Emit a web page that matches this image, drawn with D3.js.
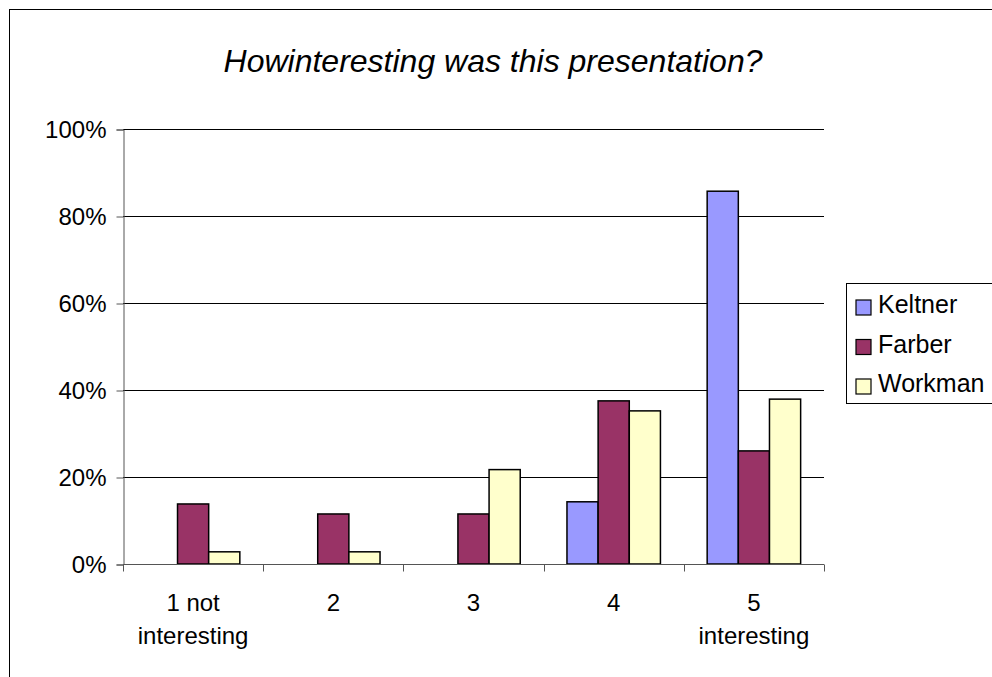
<!DOCTYPE html>
<html>
<head>
<meta charset="utf-8">
<script src="https://cdn.jsdelivr.net/npm/d3@7"></script>
<style>
  body { margin: 0; background: #fff; }
  svg text { font-family: "Liberation Sans", Arial, sans-serif; fill: #000; }
</style>
</head>
<body>
<svg width="992" height="677"></svg>
<script>
const CATEGORIES = ['1 not|interesting', '2', '3', '4', '5|interesting'];
const SERIES = ['Keltner', 'Farber', 'Workman'];
const KELTNER = [0, 0, 0, 0.143, 0.857];
const FARBER = [0.138, 0.115, 0.115, 0.375, 0.26];
const WORKMAN = [0.028, 0.028, 0.217, 0.352, 0.379];
const Y_TICKS = [0, 0.2, 0.4, 0.6, 0.8, 1];
const COLORS = ['#9999ff', '#993366', '#ffffcc'];
const TITLE = 'Howinteresting was this presentation?';

let values = [KELTNER, FARBER, WORKMAN];
let rows = [];
CATEGORIES.forEach((c, i) => {
	SERIES.forEach((s, j) => {
		rows.push({cat: c, series: s, v: values[j][i]});
	});
});

const svg = d3.select('svg');
const plotL = 123, plotR = 824, plotT = 129, plotB = 564;

// chart frame (right/bottom edges fall off the picture)
svg.append('rect').attr('x', 9.5).attr('y', 9.5).attr('width', 1100).attr('height', 800)
	.attr('fill', 'none').attr('stroke', '#000').attr('stroke-width', 1);

svg.append('text').attr('x', 493).attr('y', 72)
	.attr('text-anchor', 'middle').attr('font-size', 32).attr('font-style', 'italic')
	.text(TITLE);

let x = d3.scaleBand().domain(CATEGORIES).range([plotL, plotR]);
let xs = d3.scaleBand().domain(SERIES).range([0, x.bandwidth()]).paddingOuter(0.75);
let y = d3.scaleLinear().domain([0, 1]).range([plotB, plotT]);
let color = d3.scaleOrdinal().domain(SERIES).range(COLORS);

// gridlines
svg.append('g').selectAll('line').data(Y_TICKS.slice(1)).enter().append('line')
	.attr('x1', plotL).attr('x2', plotR)
	.attr('y1', d => y(d) + 0.5).attr('y2', d => y(d) + 0.5)
	.attr('stroke', '#000');

// bars
svg.append('g').selectAll('rect').data(rows.filter(d => d.v > 0)).enter().append('rect')
	.attr('x', d => x(d.cat) + xs(d.series))
	.attr('width', xs.bandwidth())
	.attr('y', d => y(d.v))
	.attr('height', d => plotB - y(d.v))
	.attr('fill', d => color(d.series))
	.attr('stroke', '#000').attr('stroke-width', 1.5);

// y axis
let yAxis = d3.axisLeft(y).tickValues(Y_TICKS).tickFormat(d3.format('.0%')).tickSize(7).tickPadding(10);
let gy = svg.append('g').attr('transform', `translate(${plotL + 0.5},0.5)`).call(yAxis);
gy.select('.domain').attr('stroke', '#555');
gy.selectAll('.tick line').attr('stroke', '#555');
gy.selectAll('text').attr('font-size', 24).style('font-family', '"Liberation Sans", Arial, sans-serif');

// x axis: ticks between categories
let xAxisG = svg.append('g').attr('transform', `translate(0,${plotB + 0.5})`);
xAxisG.append('line').attr('x1', plotL).attr('x2', plotR).attr('stroke', '#555');
let bounds = CATEGORIES.map(c => x(c)).concat([plotR]);
xAxisG.selectAll('line.tk').data(bounds).enter().append('line').attr('class', 'tk')
	.attr('x1', d => Math.round(d) + 0.5).attr('x2', d => Math.round(d) + 0.5)
	.attr('y1', 0).attr('y2', 7).attr('stroke', '#555');
let lab = xAxisG.selectAll('text').data(CATEGORIES).enter().append('text')
	.attr('text-anchor', 'middle').attr('font-size', 24)
	.attr('transform', d => `translate(${x(d) + x.bandwidth() / 2},0)`);
lab.selectAll('tspan').data(d => d.split('|')).enter().append('tspan')
	.attr('x', 0).attr('y', (d, i) => 46 + i * 33).text(d => d);

// legend
let lg = svg.append('g');
lg.append('rect').attr('x', 846.5).attr('y', 283.5).attr('width', 200).attr('height', 120)
	.attr('fill', '#fff').attr('stroke', '#000');
let li = lg.selectAll('g').data(SERIES).enter().append('g')
	.attr('transform', (d, i) => `translate(856,${300 + i * 39.5})`);
li.append('rect').attr('width', 15).attr('height', 15)
	.attr('fill', d => color(d)).attr('stroke', '#000').attr('stroke-width', 1.2);
li.append('text').attr('x', 22).attr('y', 13).attr('font-size', 25).text(d => d);
</script>
</body>
</html>
